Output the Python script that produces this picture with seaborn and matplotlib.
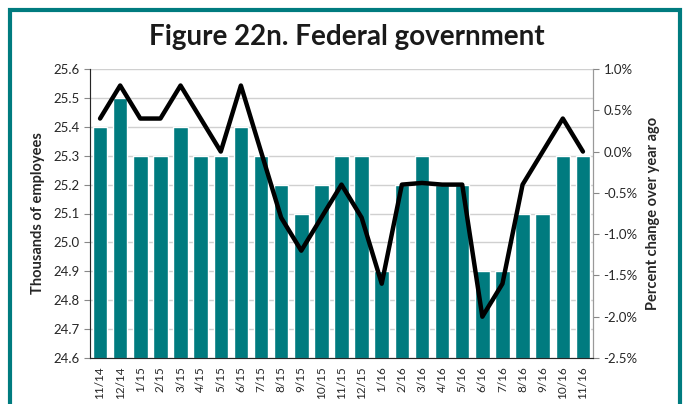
import matplotlib
matplotlib.use("Agg")
import matplotlib.pyplot as plt
import matplotlib.patches as mpatches
import matplotlib.ticker as mticker
import seaborn as sns
import pandas as pd

# data
months = ['11/14', '12/14', '1/15', '2/15', '3/15', '4/15', '5/15', '6/15', '7/15',
          '8/15', '9/15', '10/15', '11/15', '12/15', '1/16', '2/16', '3/16', '4/16',
          '5/16', '6/16', '7/16', '8/16', '9/16', '10/16', '11/16']
employees = [25.4, 25.5, 25.3, 25.3, 25.4, 25.3, 25.3, 25.4, 25.3, 25.2, 25.1, 25.2, 25.3,
             25.3, 24.9, 25.2, 25.3, 25.2, 25.2, 24.9, 24.9, 25.1, 25.1, 25.3, 25.3]
pct_change = [0.4, 0.8, 0.4, 0.4, 0.8, 0.4, 0.0, 0.8, 0.0, -0.8, -1.2, -0.8, -0.4,
              -0.8, -1.6, -0.4, -0.38, -0.4, -0.4, -2.0, -1.6, -0.4, 0.0, 0.4, 0.0]

teal = '#007B7F'

df = pd.DataFrame({'month': months, 'employees': employees, 'pct': pct_change})

sns.set_style('white')
plt.rcParams['font.family'] = ['Lato', 'DejaVu Sans']

fig = plt.figure(figsize=(6.86, 4.04), dpi=100)
ax = fig.add_axes([90 / 686, 1 - 358 / 404, (593 - 90) / 686, (358 - 69) / 404])

# frame around the whole figure
fig.patches.append(mpatches.Rectangle((10 / 686, -0.1), 670 / 686, 1.1 - 10 / 404,
                                      transform=fig.transFigure, fill=False,
                                      edgecolor=teal, linewidth=3))
fig.text(0.506, 1 - 37 / 404, 'Figure 22n. Federal government', ha='center', va='center',
         fontsize=20, fontweight='bold', color='#1a1a1a')

sns.barplot(data=df, x='month', y='employees', color=teal, saturation=1, width=0.72, ax=ax)
ax.set_ylim(24.6, 25.6)
ax.yaxis.set_major_locator(mticker.MultipleLocator(0.1))
ax.yaxis.set_major_formatter(mticker.FormatStrFormatter('%.1f'))
ax.grid(axis='y', color='#d0d0d0', linewidth=1)
ax.set_axisbelow(True)
ax.set_xlabel('')
ax.set_ylabel('Thousands of employees', fontsize=10.5, fontweight='bold', labelpad=6)
ax.tick_params(axis='x', labelrotation=90, labelsize=8.5, length=0, pad=6)
ax.tick_params(axis='y', labelsize=9.5, length=4, color='#888888', direction='out', left=True)
for s in ['left', 'bottom', 'right']:
    ax.spines[s].set_color('#999999')
ax.spines['top'].set_visible(False)

ax2 = ax.twinx()
sns.lineplot(data=df, x='month', y='pct', color='black', linewidth=3.2, sort=False, ax=ax2)
ax2.set_ylim(-2.5, 1.0)
ax2.yaxis.set_major_locator(mticker.MultipleLocator(0.5))
ax2.yaxis.set_major_formatter(mticker.FuncFormatter(lambda v, p: f'{v:.1f}%'))
ax2.set_ylabel('Percent change over year ago', fontsize=10.5, fontweight='bold', labelpad=6)
ax2.tick_params(axis='y', labelsize=9.5, length=4, color='#888888', direction='out', right=True)
ax2.spines['top'].set_visible(False)
ax2.spines['right'].set_color('#999999')
ax2.grid(False)
ax.set_xlim(-0.5, len(months) - 0.5)

fig.savefig('out.png', dpi=100)
